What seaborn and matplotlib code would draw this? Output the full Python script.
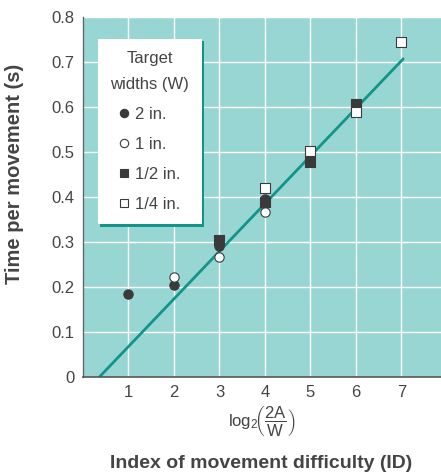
import matplotlib
matplotlib.use("Agg")
import matplotlib.pyplot as plt
from matplotlib.lines import Line2D
import seaborn as sns
import pandas as pd

# ---- data ----
series_labels = ["2 in.", "1 in.", "1/2 in.", "1/4 in."]
id_2in = [1, 2, 3, 4]
t_2in = [0.185, 0.204, 0.291, 0.395]
id_1in = [2, 3, 4, 5]
t_1in = [0.222, 0.266, 0.366, 0.490]
id_half = [3, 4, 5, 6]
t_half = [0.304, 0.388, 0.477, 0.607]
id_quarter = [4, 5, 6, 7]
t_quarter = [0.419, 0.503, 0.590, 0.745]
fit_x = [0.36, 7.04]
fit_y = [0.0, 0.707]
x_ticks = [1, 2, 3, 4, 5, 6, 7]
y_ticks = [0, 0.1, 0.2, 0.3, 0.4, 0.5, 0.6, 0.7, 0.8]
y_ticklabels = ["0", "0.1", "0.2", "0.3", "0.4", "0.5", "0.6", "0.7", "0.8"]

sns.set_style("white")
plt.rcParams["font.family"] = ["Liberation Sans", "DejaVu Sans"]
plt.rcParams["mathtext.fontset"] = "custom"
plt.rcParams["mathtext.rm"] = "Liberation Sans"
plt.rcParams["mathtext.it"] = "Liberation Sans"

bg = "#98d6d3"
teal = "#139489"
dark = "#3a3a3a"
txt = "#444444"

fig = plt.figure(figsize=(4.41, 4.74), dpi=100)
ax = fig.add_axes([83 / 441, 97 / 474, 358 / 441, 360 / 474])
ax.set_facecolor(bg)

ax.set_xlim(0, 7.87)
ax.set_ylim(0, 0.8)
ax.set_xticks(x_ticks)
ax.set_yticks(y_ticks)
ax.set_yticklabels(y_ticklabels)
ax.grid(True, color="white", linewidth=1.0)
ax.set_axisbelow(True)
for s in ["top", "right"]:
    ax.spines[s].set_visible(False)
ax.spines["left"].set_color("#666666")
ax.spines["bottom"].set_color("#555555")
ax.spines["left"].set_linewidth(1.0)
ax.spines["bottom"].set_linewidth(1.2)
ax.tick_params(axis="both", length=0, labelsize=12, colors=txt, pad=6)

sns.lineplot(x=fit_x, y=fit_y, ax=ax, color=teal, linewidth=2.0, zorder=2)

specs = [
    (id_2in, t_2in, "o", dark, 45),
    (id_1in, t_1in, "o", "white", 45),
    (id_half, t_half, "s", dark, 50),
    (id_quarter, t_quarter, "s", "white", 50),
]
handles = []
for (xs, ys, m, fc, sz), lab in zip(specs, series_labels):
    df = pd.DataFrame({"ID": xs, "T": ys})
    sns.scatterplot(data=df, x="ID", y="T", ax=ax, marker=m, color=fc,
                    edgecolor=dark, linewidth=0.8, s=sz, zorder=3)
    handles.append(Line2D([], [], marker=m, linestyle="none", markerfacecolor=fc,
                          markeredgecolor=dark, markeredgewidth=0.8, markersize=6,
                          label=lab))

ax.set_xlabel(r"$\mathrm{log}_2\!\left(\dfrac{2A}{W}\right)$", fontsize=12, color=txt, labelpad=3)
ax.set_ylabel("Time per movement (s)", fontsize=14.5, fontweight="bold", color=txt)
ax.yaxis.set_label_coords(-0.165, 0.564)
fig.text(0.593, 1 - 463 / 474, "Index of movement difficulty (ID)", ha="center", va="center",
         fontsize=14, fontweight="bold", color=txt)

leg = ax.legend(handles=handles, title="Target\nwidths (W)", loc="upper left",
                bbox_to_anchor=(0.041, 0.94), frameon=True, fancybox=False,
                fontsize=12, title_fontsize=12, handlelength=0.6, handletextpad=0.35,
                labelspacing=0.9, borderpad=0.75, borderaxespad=0, framealpha=1,
                shadow={"color": teal, "alpha": 1.0})
leg.get_frame().set_edgecolor("white")
leg.get_frame().set_linewidth(0)
leg.get_title().set_linespacing(1.9)
leg.get_title().set_multialignment("center")
leg.get_title().set_color(txt)
for t in leg.get_texts():
    t.set_color(txt)

fig.savefig("out.png", dpi=100)
